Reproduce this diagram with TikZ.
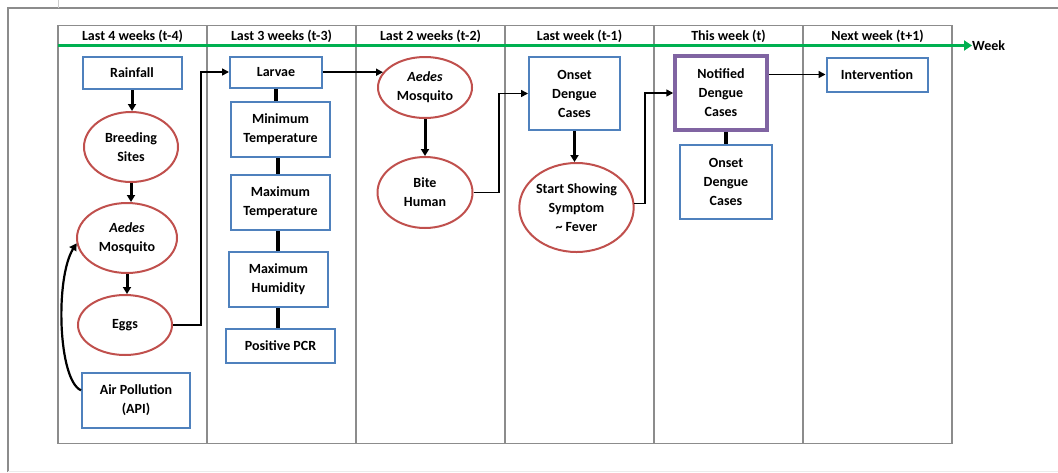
\documentclass[tikz,border=0pt]{standalone}
\usepackage{fontspec}
\setmainfont{Carlito}
\usetikzlibrary{shapes.geometric,arrows.meta}
\definecolor{bbox}{HTML}{4F81BD}
\definecolor{rell}{HTML}{C0504D}
\definecolor{purp}{HTML}{8064A2}
\definecolor{grn}{HTML}{00B050}
\definecolor{tline}{HTML}{8C8C8C}
\begin{document}
\begin{tikzpicture}[x=1pt,y=-1pt,
  every node/.style={font=\fontsize{14}{19}\selectfont\bfseries, align=center, inner sep=0pt},
  bx/.style={draw=bbox, line width=2pt, rectangle},
  el/.style={draw=rell, line width=2pt, ellipse},
  pbx/.style={draw=purp, line width=3.5pt, rectangle},
  thinarr/.style={line width=1.6pt, -{Triangle[length=7pt,width=7pt]}},
  thickarr/.style={line width=3pt, -{Triangle[length=7pt,width=8pt]}},
  link/.style={line width=3.5pt},
  grid/.style={draw=tline, line width=1.2pt},
  hdr/.style={anchor=base}]
\useasboundingbox (0,0) rectangle (1058,472);
% outer frame
\draw[tline, line width=1.2pt] (8,472) -- (8,8) -- (1058,8);
\draw[gray!15, line width=1pt] (8,471) -- (1058,471);
\draw[gray!40, line width=0.8pt] (58,0) -- (58,8);
% table
\draw[grid] (58,25.5) rectangle (952,443.5);
\foreach \cx in {207,356,505,654,803} \draw[grid] (\cx,25.5) -- (\cx,443.5);
% headers
\node[hdr] (h1) at (132.5,40.5) {Last 4 weeks (t-4)};
\node[hdr] (h2) at (281.5,40.5) {Last 3 weeks (t-3)};
\node[hdr] (h3) at (430.5,40.5) {Last 2 weeks (t-2)};
\node[hdr] (h4) at (579.5,40.5) {Last week (t-1)};
\node[hdr] (h5) at (728.5,40.5) {This week (t)};
\node[hdr] (h6) at (877.5,40.5) {Next week (t+1)};
% week axis
\coordinate (ax0) at (58,45.5);
\node[anchor=base west] (week) at (972,50.5) {Week};
\draw[draw=grn, line width=2.5pt, -{Triangle[length=8pt,width=10pt]}] (ax0) -- (ax0 -| week.west);
% column 1
\node[bx, minimum width=99pt, minimum height=32pt] (rain) at (132,73) {Rainfall};
\node[el, minimum width=94pt, minimum height=70pt] (breed) at (131,147) {Breeding\\Sites};
\node[el, minimum width=100pt, minimum height=70pt] (aed1) at (127,238) {\textit{Aedes}\\Mosquito};
\node[el, minimum width=94pt, minimum height=60pt] (eggs) at (125,325) {Eggs};
\node[bx, minimum width=108pt, minimum height=55pt] (air) at (136,400) {Air Pollution\\(API)};
% column 2
\node[bx, minimum width=92pt, minimum height=31pt] (larv) at (276,72) {Larvae};
\node[bx, minimum width=99pt, minimum height=55pt] (mint) at (280.5,129.5) {Minimum\\Temperature};
\node[bx, minimum width=99pt, minimum height=55pt] (maxt) at (280.5,202.5) {Maximum\\Temperature};
\node[bx, minimum width=99pt, minimum height=55pt] (maxh) at (278.5,279.5) {Maximum\\Humidity};
\node[bx, minimum width=109pt, minimum height=34pt] (pcr) at (280.5,346) {Positive PCR};
% column 3
\node[el, minimum width=94pt, minimum height=61pt] (aed2) at (425,87.5) {\textit{Aedes}\\Mosquito};
\node[el, minimum width=95pt, minimum height=71pt] (bite) at (425,192.5) {Bite\\Human};
% column 4
\node[bx, minimum width=91pt, minimum height=73pt] (ons1) at (574.5,93.5) {Onset\\Dengue\\Cases};
\node[el, minimum width=113pt, minimum height=89pt] (sym) at (576.5,207.5) {Start Showing\\Symptom\\\textasciitilde{} Fever};
% column 5
\node[pbx, minimum width=92pt, minimum height=74pt] (noti) at (721,93) {Notified\\Dengue\\Cases};
\node[bx, minimum width=92pt, minimum height=74pt] (ons2) at (726,182) {Onset\\Dengue\\Cases};
% column 6
\node[bx, minimum width=101pt, minimum height=34pt] (intv) at (877,74.5) {Intervention};
% helper coordinates
\coordinate (c2) at (278,0);
\coordinate (j1) at (201,0);
\coordinate (j2) at (499,0);
\coordinate (j3) at (645,0);
% connectors column 1
\draw[thickarr] (rain.south) -- (rain.south |- breed.north);
\draw[thickarr] (breed.south) -- (breed.south |- aed1.north);
\draw[thickarr] (aed1.south) -- (aed1.south |- eggs.north);
\draw[line width=2.2pt, -{Triangle[length=7pt,width=8pt]}] (air.170) .. controls (58,380) and (55,278) .. (aed1.186);
\draw[thinarr] (eggs.east) -- (eggs.east -| j1) |- (larv.west);
% column 2 links
\draw[link] (larv.south) -- (larv.south |- mint.north);
\draw[link] (mint.south -| c2) -- (maxt.north -| c2);
\draw[link] (maxt.south -| c2) -- (maxh.north -| c2);
\draw[link] (maxh.south -| c2) -- (pcr.north -| c2);
% column 3
\draw[thinarr] (larv.east |- aed2.160) -- (aed2.160);
\draw[thickarr] (aed2.south) -- (aed2.south |- bite.north);
\draw[thinarr] (bite.east) -- (bite.east -| j2) |- (ons1.west);
% column 4
\draw[thickarr] (ons1.south) -- (ons1.south |- sym.north);
\draw[thinarr] (sym.4) -- (sym.4 -| j3) |- (noti.west);
% column 5
\draw[link] (ons2.north |- noti.south) -- (ons2.north);
\draw[thinarr] (noti.east |- intv.west) -- (intv.west);
\end{tikzpicture}
\end{document}
